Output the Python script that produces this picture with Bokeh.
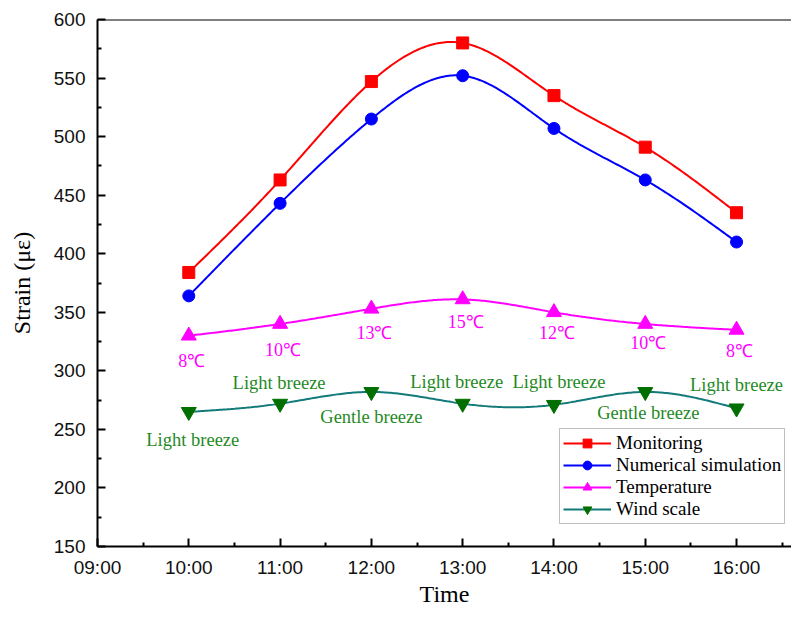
import numpy as np
from bokeh.plotting import figure
from bokeh.models import FixedTicker, Span, Legend, LegendItem, ColumnDataSource
from bokeh.core.properties import value
from bokeh.embed import file_html
from bokeh.resources import INLINE

# ---- data ----
hours = [10, 11, 12, 13, 14, 15, 16]
monitoring = [384, 463, 547, 580, 535, 491, 435]
simulation = [364, 443, 515, 552, 507, 463, 410]
temperature = [330, 340, 353, 361, 350, 340, 335]
wind = [265, 272, 282, 272, 271, 282, 268]
temp_labels = ["8℃", "10℃", "13℃", "15℃", "12℃", "10℃", "8℃"]
wind_labels = ["Light breeze", "Light breeze", "Gentle breeze", "Light breeze",
               "Light breeze", "Gentle breeze", "Light breeze"]
x_ticks = [9, 10, 11, 12, 13, 14, 15, 16]
x_tick_labels = ["09:00", "10:00", "11:00", "12:00", "13:00", "14:00", "15:00", "16:00"]
y_ticks = [150, 200, 250, 300, 350, 400, 450, 500, 550, 600]

# label placement (screen pixels, positive = right / down)
temp_offsets = [25, 26, 24, 23, 21, 19, 21]
wind_offsets = [28, -21, 25, -22, -23, 21, -23]
wind_x_offsets = [4, -1, 0, -6, 5, 3, 0]


def natural_spline(xs, ys, n=300):
    x = np.asarray(xs, float)
    y = np.asarray(ys, float)
    m = len(x)
    h = np.diff(x)
    A = np.zeros((m, m))
    b = np.zeros(m)
    A[0, 0] = 1
    A[-1, -1] = 1
    for i in range(1, m - 1):
        A[i, i - 1] = h[i - 1]
        A[i, i] = 2 * (h[i - 1] + h[i])
        A[i, i + 1] = h[i]
        b[i] = 6 * ((y[i + 1] - y[i]) / h[i] - (y[i] - y[i - 1]) / h[i - 1])
    M = np.linalg.solve(A, b)
    xx = np.linspace(x[0], x[-1], n)
    yy = np.empty_like(xx)
    for k, t in enumerate(xx):
        i = min(np.searchsorted(x, t, side="right") - 1, m - 2)
        hi = h[i]
        a = x[i + 1] - t
        c = t - x[i]
        yy[k] = (M[i] * a ** 3 / (6 * hi) + M[i + 1] * c ** 3 / (6 * hi)
                 + (y[i] / hi - M[i] * hi / 6) * a
                 + (y[i + 1] / hi - M[i + 1] * hi / 6) * c)
    return xx, yy


serif = "Liberation Serif"
sans = "Liberation Sans"

p = figure(width=791, height=609, x_range=(9, 16.602), y_range=(150, 600),
           output_backend="svg", toolbar_location=None,
           min_border_left=97, min_border_right=0, min_border_top=19,
           min_border_bottom=60)
p.outline_line_color = None
p.grid.visible = False
p.background_fill_color = "white"
p.border_fill_color = "white"

for ax in (p.xaxis[0], p.yaxis[0]):
    ax.axis_line_width = 2
    ax.axis_line_color = "black"
    ax.major_tick_in = 8
    ax.major_tick_out = 0
    ax.minor_tick_in = 4
    ax.minor_tick_out = 0
    ax.major_tick_line_width = 2
    ax.minor_tick_line_width = 2
    ax.major_label_text_font = sans
    ax.major_label_text_font_size = "19px"
    ax.major_label_text_color = "#111111"
    ax.axis_label_text_font = serif
    ax.axis_label_text_font_size = "24px"
    ax.axis_label_text_font_style = "normal"
    ax.axis_label_text_color = "black"

p.xaxis.ticker = FixedTicker(ticks=x_ticks,
                             minor_ticks=[t + 0.5 for t in x_ticks])
p.xaxis.major_label_overrides = {t: l for t, l in zip(x_ticks, x_tick_labels)}
p.xaxis.major_label_standoff = 10
p.xaxis.axis_label = "Time"
p.xaxis.axis_label_standoff = 0

p.yaxis.ticker = FixedTicker(ticks=y_ticks,
                             minor_ticks=[t + 25 for t in y_ticks])
p.yaxis.major_label_standoff = 12
p.yaxis.axis_label = "Strain (με)"
p.yaxis.axis_label_standoff = 16

p.add_layout(Span(location=600, dimension="width", line_color="black",
                  line_width=2))

series = [
    (monitoring, "#FF0000", "#FF0000", "square", 12, "Monitoring"),
    (simulation, "#0000FF", "#0000FF", "circle", 12, "Numerical simulation"),
    (temperature, "#FF00FF", "#FF00FF", "triangle", 15, "Temperature"),
    (wind, "#137a7a", "#006f00", "inverted_triangle", 15, "Wind scale"),
]

items = []
for ys, lc, mc, marker, size, name in series:
    sx, sy = natural_spline(hours, ys)
    lr = p.line(sx, sy, line_color=lc, line_width=2)
    sr = p.scatter(hours, ys, marker=marker, size=size, fill_color=mc,
                   line_color=mc)
    items.append(LegendItem(label=name, renderers=[lr, sr]))

temp_src = ColumnDataSource(dict(x=hours, y=temperature, t=temp_labels,
                                 off=temp_offsets))
p.text(x="x", y="y", text="t", y_offset="off", x_offset=3, source=temp_src,
       text_font=value(serif), text_font_size="18px", text_color="#FF00FF",
       text_align="center", text_baseline="middle")

wind_src = ColumnDataSource(dict(x=hours, y=wind, t=wind_labels,
                                 off=wind_offsets, xoff=wind_x_offsets))
p.text(x="x", y="y", text="t", y_offset="off", x_offset="xoff",
       source=wind_src, text_font=value(serif), text_font_size="18.5px",
       text_color="#1f8a1f", text_align="center", text_baseline="middle")

legend = Legend(items=items, location=(462, 22), margin=0, padding=3,
                spacing=0, glyph_width=48, glyph_height=22, label_height=22,
                label_standoff=5, label_text_font=serif,
                label_text_font_size="19px", label_text_color="black",
                border_line_color="#808080", border_line_width=1,
                background_fill_alpha=1)
p.add_layout(legend)

open("out.html", "w").write(file_html(p, INLINE))
